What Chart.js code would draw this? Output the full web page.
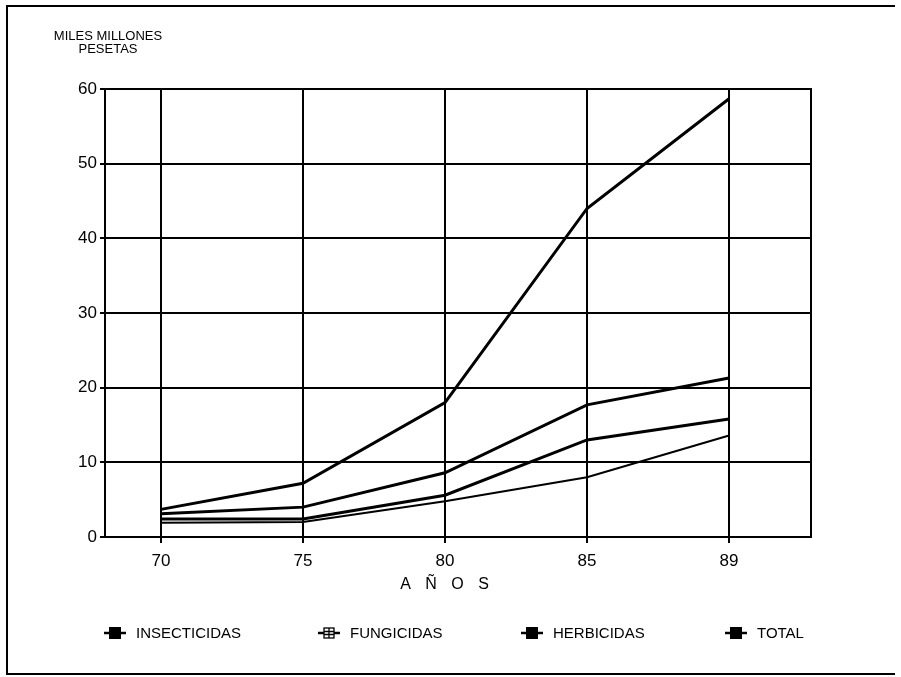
<!DOCTYPE html>
<html>
<head>
<meta charset="utf-8">
<script src="https://cdn.jsdelivr.net/npm/chart.js@4/dist/chart.umd.min.js"></script>
<style>
  body { margin: 0; background: #fff; }
  #wrap { position: relative; width: 901px; height: 677px; }
</style>
</head>
<body>
<div id="wrap"><canvas id="c"></canvas></div>
<script>
// valores (miles de millones de pesetas)
const years = ['70', '75', '80', '85', '89'];
const insecticidas = [3.1, 4.0, 8.6, 17.7, 21.3];
const fungicidas = [1.9, 2.0, 4.8, 8.0, 13.6];
const herbicidas = [2.4, 2.4, 5.6, 13.0, 15.8];
const total = [3.7, 7.2, 18.0, 44.0, 58.7];
const yTicks = [0, 10, 20, 30, 40, 50, 60];

const legendNames = ['INSECTICIDAS', 'FUNGICIDAS', 'HERBICIDAS', 'TOTAL'];
const legendX = [104, 318, 521, 725]; // inicio del simbolo

const FONT = '"Liberation Sans", Arial, sans-serif';

function pts(arr) {
  return arr.map((v, i) => ({ x: i, y: v }));
}

// textos sueltos, leyenda y marco
const extras = {
  id: 'extras',
  afterDraw(chart) {
    const ctx = chart.ctx;
    const a = chart.chartArea;
    ctx.save();
    ctx.strokeStyle = '#000';
    ctx.lineWidth = 2;
    ctx.strokeRect(a.left, a.top, a.right - a.left, a.bottom - a.top);

    // marco de la pagina
    ctx.beginPath();
    ctx.moveTo(895, 6); ctx.lineTo(7, 6); ctx.lineTo(7, 674); ctx.lineTo(895, 674);
    ctx.stroke();

    ctx.fillStyle = '#000';
    ctx.textBaseline = 'middle';
    ctx.textAlign = 'center';
    ctx.font = '13px ' + FONT;
    ctx.fillText('MILES MILLONES', 108, 36);
    ctx.fillText('PESETAS', 108, 49);

    ctx.font = '16px ' + FONT;
    ctx.letterSpacing = '5px';
    ctx.fillText('A Ñ O S', 447, 585);
    ctx.letterSpacing = '0px';

    // leyenda
    ctx.textAlign = 'left';
    ctx.font = '15px ' + FONT;
    const ly = 633;
    legendNames.forEach((name, i) => {
      const x = legendX[i];
      ctx.lineWidth = 2.5;
      ctx.beginPath();
      ctx.moveTo(x, ly); ctx.lineTo(x + 22, ly);
      ctx.stroke();
      if (i === 1) {
        ctx.fillStyle = '#fff';
        ctx.fillRect(x + 6, ly - 5, 10, 10);
        ctx.lineWidth = 1.3;
        ctx.strokeRect(x + 6, ly - 5, 10, 10);
        ctx.beginPath();
        ctx.moveTo(x + 6, ly - 1.5); ctx.lineTo(x + 16, ly - 1.5);
        ctx.moveTo(x + 6, ly + 1.5); ctx.lineTo(x + 16, ly + 1.5);
        ctx.moveTo(x + 11, ly - 5); ctx.lineTo(x + 11, ly + 5);
        ctx.stroke();
        ctx.fillStyle = '#000';
      } else {
        ctx.fillRect(x + 5, ly - 6, 12, 12);
      }
      ctx.fillText(name, x + 32, ly + 1);
    });
    ctx.restore();
  }
};

new Chart(document.getElementById('c'), {
  type: 'line',
  data: {
    datasets: [
      { label: 'INSECTICIDAS', data: pts(insecticidas), borderWidth: 3 },
      { label: 'FUNGICIDAS', data: pts(fungicidas), borderWidth: 2 },
      { label: 'HERBICIDAS', data: pts(herbicidas), borderWidth: 3 },
      { label: 'TOTAL', data: pts(total), borderWidth: 3 }
    ].map(d => Object.assign(d, {
      borderColor: '#000', backgroundColor: '#000',
      pointRadius: 0, tension: 0, fill: false
    }))
  },
  options: {
    responsive: true,
    maintainAspectRatio: false,
    animation: false,
    layout: { padding: { top: 89, right: 90, left: 0, bottom: 0 } },
    plugins: { legend: { display: false }, tooltip: { enabled: false } },
    scales: {
      x: {
        type: 'linear',
        min: -0.394,
        max: 4.577,
        afterBuildTicks: s => { s.ticks = years.map((y, i) => ({ value: i })); },
        afterFit: s => { s.height = 140; },
        ticks: {
          callback: v => years[v],
          color: '#000',
          font: { family: FONT, size: 17 },
          padding: 8,
          maxRotation: 0
        },
        grid: { color: '#000', lineWidth: 2, tickLength: 6 },
        border: { color: '#000', width: 2 }
      },
      y: {
        min: 0,
        max: 60,
        afterBuildTicks: s => { s.ticks = yTicks.map(v => ({ value: v })); },
        afterFit: s => { s.width = 105; },
        ticks: {
          color: '#000',
          font: { family: FONT, size: 17 },
          padding: 3
        },
        grid: { color: '#000', lineWidth: 2, tickLength: 5 },
        border: { color: '#000', width: 2 }
      }
    }
  },
  plugins: [extras]
});
</script>
</body>
</html>
